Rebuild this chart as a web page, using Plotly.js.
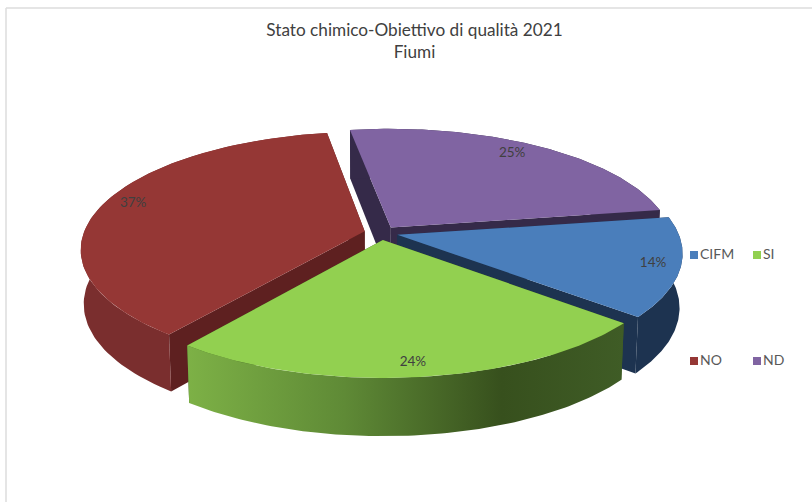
<!DOCTYPE html>
<html><head><meta charset="utf-8">
<script src="https://cdn.plot.ly/plotly-3.0.1.min.js"></script>
<style>html,body{margin:0;padding:0;background:#fff}#c{width:812px;height:502px}</style>
</head><body><div id="c"></div>
<script>
const categories = ["CIFM","SI","NO","ND"];
const shares = [13.6,24.3,37,25.1];
const topColors = ["#4a7ebb","#92d050","#953735","#8064a2"];
const rimColors = ["#1d3350",null,"#7a2e2e","#352a49"];
const faceColors = ["#1d3350","#3c5a20","#5e2020","#352a49"];
const greenRim = [[0,"#7db146"],[0.36,"#5f8a36"],[0.72,"#37501d"],[1,"#3f5c26"]];
const labelAngles = [104.5,174.2,287.3,33.4];
const labelRadii = [0.904,0.899,0.902,0.884];
const legendColumns = [0,1,0,1];
const legendRows = [0,0,1,1];

// pie geometry
const firstAngle = 81, explode = 0.06;
const cx = 381, cy = 233, rx = 281, ry = 115, persp = 0.15;
const project = (u,v)=>{const w=1+persp*v;return [cx+rx*u/w, cy-ry*v/w];};
const bottom = (u,v)=>{const p=project(u,v);return [cx+(p[0]-cx)*0.99, p[1]+53.5-4.5*v];};
const total = shares.reduce((a,b)=>a+b,0);
let acc = firstAngle;
const slices = shares.map((s,i)=>{const a0=acc,a1=acc+s/total*360;acc=a1;return {i,a0,a1,mid:(a0+a1)/2};});
const rad = d=>d*Math.PI/180;
function disc(sl,deg,r){
  const ox=explode*Math.sin(rad(sl.mid)), oy=explode*Math.cos(rad(sl.mid));
  return [ox+r*Math.sin(rad(deg)), oy+r*Math.cos(rad(deg))];
}
function arc(sl,fn){
  const out=[];const n=90;
  for(let k=0;k<=n;k++){const d=sl.a0+(sl.a1-sl.a0)*k/n;const q=disc(sl,d,1);out.push(fn(q[0],q[1]));}
  return out;
}
const poly=(pts,extra)=>Object.assign({x:pts.map(p=>p[0]),y:pts.map(p=>p[1]),mode:"lines",fill:"toself",line:{width:0},hoverinfo:"skip",showlegend:false},extra);
function sliceFaces(sl){
  const apex=disc(sl,0,0), t=[];
  const quad=(q,color)=>t.push(poly([project(apex[0],apex[1]),project(q[0],q[1]),bottom(q[0],q[1]),bottom(apex[0],apex[1])],{fillcolor:color}));
  const A=disc(sl,sl.a0,1),B=disc(sl,sl.a1,1);
  quad(A,faceColors[sl.i]);quad(B,faceColors[sl.i]);
  const topArc=arc(sl,project), botArc=arc(sl,bottom).reverse();
  const rim=topArc.concat(botArc);
  if(rimColors[sl.i]) t.push(poly(rim,{fillcolor:rimColors[sl.i]}));
  else t.push(poly(rim,{fillcolor:"#5f8a36",fillgradient:{type:"horizontal",colorscale:greenRim}}));
  return t;
}
function sliceTop(sl){
  const apex=disc(sl,0,0);
  const pts=[project(apex[0],apex[1])].concat(arc(sl,project));
  return poly(pts,{fillcolor:topColors[sl.i]});
}
// painter order: ND, CIFM, NO, SI
const order=[3,0,2,1];
const data=[];
order.forEach(i=>{data.push(...sliceFaces(slices[i]));data.push(sliceTop(slices[i]));});

// percent labels
const lab=slices.map(sl=>{const q=disc(sl,labelAngles[sl.i],labelRadii[sl.i]);return project(q[0],q[1]);});
data.push({x:lab.map(p=>p[0]),y:lab.map(p=>p[1]+2),mode:"text",text:shares.map(s=>Math.round(s)+"%"),
  textposition:"middle center",textfont:{family:"Lato,sans-serif",size:13.5,color:"#404040"},hoverinfo:"skip",showlegend:false});

// legend keys
const legX=c=>694+c*63, legY=r=>255+r*106;
data.push({x:categories.map((_,i)=>legX(legendColumns[i])),y:categories.map((_,i)=>legY(legendRows[i])),
  mode:"markers+text",text:categories,textposition:"middle right",
  marker:{symbol:"square",size:8,color:topColors},
  textfont:{family:"Lato,sans-serif",size:14,color:"#595959"},hoverinfo:"skip",showlegend:false});

const layout={width:812,height:502,margin:{l:0,r:0,t:0,b:0},paper_bgcolor:"#fff",plot_bgcolor:"#fff",showlegend:false,
  xaxis:{range:[0,812],visible:false,fixedrange:true},
  yaxis:{range:[502,0],visible:false,fixedrange:true},
  title:{text:"Stato chimico-Obiettivo di qualità 2021<br>Fiumi",x:414.5/812,xanchor:"center",y:1-36/502,yanchor:"top",
    font:{family:"Lato,sans-serif",size:17.2,color:"#404040"}},
  shapes:[
    {type:"line",xref:"x",yref:"y",x0:6,x1:6,y0:8,y1:502,line:{color:"#dcdcdc",width:1.5}},
    {type:"line",xref:"x",yref:"y",x0:6,x1:812,y0:8,y1:8,line:{color:"#dcdcdc",width:1.5}}
  ]};
Plotly.newPlot("c",data,layout,{displayModeBar:false,staticPlot:true});
</script></body></html>
